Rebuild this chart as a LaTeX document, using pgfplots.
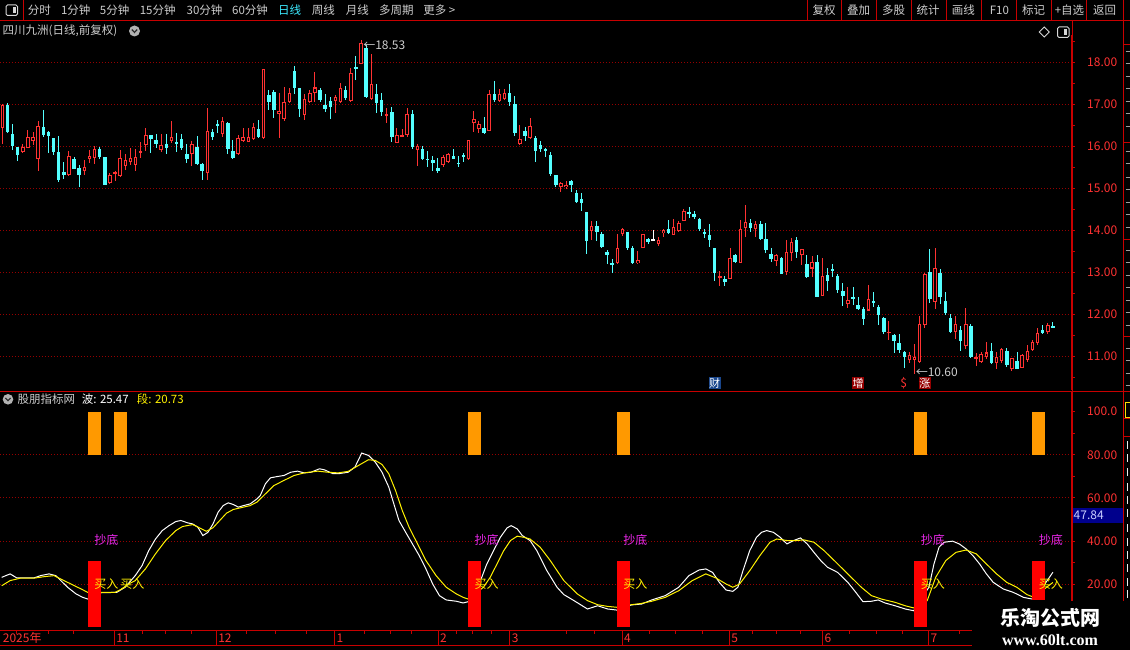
\documentclass[border=0pt]{standalone}
\usepackage{fontspec}
\setmainfont{Noto Sans CJK SC}
\newfontfamily\wmserif{Liberation Serif}
\usepackage{pgfplots}
\pgfplotsset{compat=1.18}
\usepackage{pgfplotstable}
\newcommand{\fs}[1]{\fontsize{#1}{#1}\selectfont}
\definecolor{cr}{RGB}{255,50,50}
\definecolor{cy}{RGB}{84,255,255}
\definecolor{axred}{RGB}{200,0,0}
\definecolor{gridred}{RGB}{150,0,0}
\definecolor{lblred}{RGB}{255,50,50}
\definecolor{uigray}{RGB}{205,205,205}
\definecolor{barorange}{RGB}{255,153,0}
\definecolor{mag}{RGB}{235,40,235}
\definecolor{navyb}{RGB}{0,0,140}
\definecolor{dayc}{RGB}{60,235,255}
\definecolor{cai}{RGB}{25,70,140}
\definecolor{zeng}{RGB}{150,0,0}

\pgfplotstableread{
n o h l c
1 16.44 17.01 16.06 16.99
5 15.88 16.06 15.84 15.99
6 15.98 16.40 15.97 16.24
7 16.14 16.36 16.04 16.22
8 15.70 16.61 15.41 16.49
14 15.33 15.90 15.30 15.78
17 15.41 15.68 15.33 15.51
18 15.70 15.92 15.62 15.79
19 15.74 16.02 15.60 15.94
22 15.13 15.38 15.11 15.33
23 15.37 15.42 15.19 15.40
24 15.30 15.92 15.27 15.73
25 15.54 15.83 15.44 15.68
26 15.64 15.98 15.56 15.73
27 15.57 15.94 15.41 15.75
28 15.87 16.12 15.74 15.89
29 16.03 16.44 15.90 16.29
32 15.91 16.30 15.88 16.03
34 16.14 16.61 16.08 16.24
38 15.82 16.14 15.54 16.07
41 15.37 16.91 15.21 16.37
44 16.31 16.70 16.22 16.61
47 15.82 16.28 15.80 16.21
48 16.14 16.44 16.12 16.22
49 16.12 16.44 16.11 16.22
50 16.19 16.56 16.16 16.46
52 16.20 17.85 16.18 17.84
55 16.79 17.27 16.21 16.85
56 16.65 17.43 16.61 17.06
57 17.06 17.39 17.03 17.29
60 16.75 17.25 16.64 17.13
61 17.06 17.35 17.03 17.29
62 17.27 17.78 17.07 17.41
66 17.10 17.23 16.81 17.18
67 17.07 17.52 17.05 17.39
69 17.10 17.87 17.07 17.75
71 17.98 18.53 17.97 18.48
73 17.13 18.21 17.11 17.49
76 16.75 16.93 16.56 16.78
78 16.10 16.44 16.09 16.29
79 16.24 16.41 16.22 16.28
80 16.29 16.91 16.24 16.78
82 15.91 16.06 15.55 16.02
87 15.56 15.80 15.52 15.75
88 15.64 15.84 15.62 15.83
92 15.70 16.17 15.68 16.16
93 16.57 16.85 16.36 16.65
94 16.42 16.61 16.33 16.54
96 16.38 17.35 16.37 17.25
98 17.09 17.37 17.07 17.25
99 17.13 17.37 17.11 17.29
102 16.06 16.52 16.04 16.18
104 16.20 16.68 16.19 16.49
110 15.05 15.16 14.91 15.13
111 15.05 15.18 14.99 15.10
116 14.00 14.23 13.78 14.11
121 13.22 13.92 13.21 13.60
122 13.92 14.06 13.88 14.04
125 13.22 13.52 13.21 13.30
126 13.60 13.93 13.59 13.91
129 13.68 13.86 13.64 13.78
130 13.95 14.03 13.86 14.01
132 13.90 14.28 13.89 14.10
133 14.00 14.22 13.98 14.19
134 14.24 14.52 14.22 14.48
141 12.88 13.04 12.68 12.92
143 12.86 13.58 12.84 13.34
145 13.24 14.25 13.22 14.03
146 14.07 14.61 13.86 14.20
148 14.03 14.23 13.86 14.16
152 13.29 13.44 13.16 13.42
154 13.02 13.78 12.95 13.49
155 13.48 13.83 13.29 13.72
157 13.42 13.57 13.18 13.56
159 13.10 13.40 12.89 13.26
161 12.45 13.34 12.44 12.92
166 12.25 12.67 12.15 12.35
170 12.10 12.71 12.09 12.37
174 11.56 11.85 11.40 11.60
178 10.91 11.10 10.84 11.03
179 10.92 11.30 10.60 11.00
180 10.88 11.98 10.84 11.77
181 11.75 13.00 11.69 12.97
183 12.31 13.58 12.14 13.11
187 11.58 11.97 11.42 11.78
189 11.26 12.16 11.18 11.79
191 10.96 11.08 10.78 11.00
192 10.88 11.12 10.86 11.06
193 11.00 11.36 10.95 11.10
195 10.84 11.12 10.71 11.00
196 10.90 11.20 10.84 11.18
198 10.71 10.98 10.67 10.96
200 10.74 11.06 10.72 11.03
201 10.91 11.28 10.88 11.14
202 11.16 11.40 11.14 11.34
203 11.32 11.68 11.28 11.56
205 11.58 11.81 11.55 11.75
}\upc

\pgfplotstableread{
n o h l c
2 16.99 17.03 16.32 16.34
3 16.30 16.54 15.91 16.02
4 15.99 16.00 15.67 15.80
9 16.46 16.87 16.24 16.28
10 16.35 16.38 15.86 16.25
11 16.20 16.21 15.80 15.87
12 15.87 16.25 15.17 15.21
13 15.40 15.64 15.23 15.33
15 15.71 15.75 15.46 15.48
16 15.49 15.56 15.05 15.33
20 15.94 16.00 15.70 15.75
21 15.75 15.76 15.09 15.10
30 16.27 16.28 15.86 16.19
31 16.16 16.30 15.96 16.06
33 16.06 16.30 15.83 15.98
35 16.10 16.32 15.88 16.08
36 16.18 16.30 15.92 15.98
37 15.83 16.06 15.62 15.71
39 15.99 16.25 15.57 15.59
40 15.59 15.62 15.21 15.41
42 16.34 16.41 16.16 16.24
43 16.54 16.64 16.32 16.50
45 16.57 16.60 15.83 15.94
46 15.90 16.17 15.71 15.74
51 16.41 16.64 16.21 16.24
53 17.23 17.35 16.87 17.07
54 17.30 17.35 16.69 16.87
58 17.80 17.92 17.25 17.39
59 17.39 17.40 16.71 16.90
63 17.35 17.39 17.07 17.11
64 16.99 17.25 16.83 16.90
65 17.09 17.19 16.67 16.95
68 17.35 17.44 17.11 17.17
70 17.89 18.16 17.59 17.85
72 18.34 18.42 17.17 17.19
74 17.25 17.49 16.81 17.03
75 17.11 17.29 16.74 16.83
77 16.82 16.94 16.12 16.22
81 16.79 16.87 15.95 15.99
83 15.94 16.02 15.68 15.71
84 15.71 15.89 15.52 15.69
85 15.68 15.78 15.41 15.62
86 15.50 15.74 15.38 15.41
89 15.78 15.94 15.70 15.71
90 15.61 15.78 15.52 15.60
91 15.79 15.84 15.64 15.78
95 16.44 16.71 16.31 16.32
97 17.25 17.56 17.06 17.11
100 17.29 17.49 16.97 17.07
101 17.02 17.21 16.26 16.32
103 16.37 16.46 16.14 16.26
105 16.20 16.25 15.64 15.90
106 16.04 16.14 15.88 15.95
107 15.93 15.98 15.76 15.92
108 15.80 15.87 15.31 15.35
109 15.32 15.33 15.05 15.09
112 15.18 15.21 14.93 15.10
113 14.89 14.97 14.67 14.69
114 14.75 14.89 14.48 14.67
115 14.44 14.45 13.44 13.76
117 14.11 14.23 13.76 13.98
118 13.92 13.97 13.60 13.62
119 13.50 13.54 13.21 13.42
120 13.22 13.32 13.00 13.21
123 13.97 13.98 13.54 13.58
124 13.60 13.64 13.21 13.22
127 13.80 13.83 13.69 13.72
131 14.04 14.25 13.92 13.94
135 14.45 14.56 14.31 14.40
136 14.39 14.47 14.29 14.33
137 14.28 14.31 14.00 14.03
138 13.98 14.04 13.82 13.93
139 13.90 14.16 13.62 13.78
140 13.58 13.60 12.81 13.00
142 12.85 12.92 12.68 12.79
144 13.42 13.44 13.24 13.25
147 14.19 14.29 13.98 14.07
149 14.16 14.23 13.79 13.80
150 13.80 14.19 13.46 13.54
151 13.45 13.58 13.26 13.33
153 13.36 13.38 12.96 12.97
156 13.78 13.84 13.34 13.50
158 13.20 13.42 12.87 12.89
160 13.26 13.42 12.41 12.43
162 12.94 13.12 12.57 12.81
163 13.07 13.21 12.89 13.06
164 12.93 12.98 12.51 12.59
165 12.56 12.76 12.21 12.45
167 12.41 12.65 12.23 12.37
168 12.23 12.43 12.11 12.13
169 12.14 12.18 11.75 11.90
171 12.31 12.54 12.18 12.30
172 12.19 12.23 11.75 11.99
173 11.91 11.95 11.53 11.60
175 11.52 11.54 11.10 11.38
176 11.33 11.53 11.08 11.16
177 11.12 11.14 10.74 10.99
182 13.02 13.56 12.27 12.37
184 12.99 13.10 12.25 12.43
185 12.33 12.54 11.99 12.03
186 11.93 12.01 11.56 11.58
188 11.64 11.74 11.14 11.38
190 11.74 11.77 10.98 11.00
194 11.14 11.32 10.83 10.84
197 11.14 11.20 10.76 10.80
199 10.90 11.10 10.70 10.71
204 11.64 11.75 11.53 11.56
206 11.73 11.83 11.68 11.69
}\dnc

\pgfplotstableread{
n o h l c
128 13.78 14.02 13.76 13.78
}\flatc

\pgfplotstableread{
n v
0.88 23.1
2.53 24.7
3.85 22.8
7.15 22.8
8.47 23.9
10.12 24.7
11.44 23.9
12.42 21.6
13.74 18.5
15.39 15.4
16.71 13.8
17.70 13.0
20.34 16.0
23.31 16.1
24.96 18.5
26.94 23.9
28.26 28.5
29.57 35.5
30.89 40.9
32.21 44.8
33.53 47.1
34.85 49.0
35.84 49.5
37.16 48.4
38.15 47.9
39.14 46.4
40.13 42.5
41.12 44.0
42.11 47.9
43.10 53.3
44.09 56.4
45.08 57.7
46.07 56.9
47.06 55.7
48.04 56.4
49.36 57.2
50.68 59.5
51.34 61.1
52.33 66.5
53.32 69.3
54.64 69.9
55.96 70.4
57.28 71.9
58.60 72.4
59.92 71.6
61.24 71.9
62.89 73.5
63.88 73.0
65.53 71.2
66.54 71.2
68.49 71.9
69.81 74.3
71.13 80.8
72.45 79.7
73.77 76.6
75.09 71.9
76.41 65.0
77.40 57.2
78.39 49.5
79.71 44.0
81.03 38.6
82.35 33.2
83.66 27.0
84.98 20.0
86.30 14.6
87.62 12.6
89.60 12.0
90.92 11.2
91.91 11.8
94.55 23.1
95.54 29.3
96.86 35.5
98.18 41.7
99.50 46.1
100.29 47.1
101.47 45.6
102.46 42.5
103.97 40.2
105.29 35.5
107.26 26.2
109.24 18.5
110.56 15.1
112.54 12.3
115.18 8.4
117.16 9.9
119.14 8.4
120.92 7.9
123.76 10.3
125.73 10.7
127.71 12.6
130.35 14.6
132.99 18.5
134.97 23.9
136.95 26.5
138.27 27.0
139.59 25.4
140.90 20.8
142.23 17.2
143.54 16.6
144.53 18.5
145.52 26.2
146.84 35.5
148.16 41.7
149.15 44.0
150.14 44.8
151.46 44.0
152.78 41.7
154.10 38.6
155.42 40.2
156.74 41.4
158.06 38.6
159.37 34.7
160.69 30.9
162.01 27.8
163.99 25.4
165.97 20.8
167.29 16.9
168.94 11.8
170.59 12.0
171.91 12.6
173.23 11.2
175.21 9.9
177.19 8.4
178.83 7.6
181.80 18.5
182.79 29.3
183.78 37.1
184.77 39.4
186.42 39.9
187.74 38.6
189.06 36.3
190.38 33.2
191.70 29.3
193.02 24.7
194.34 20.8
196.31 17.7
198.29 16.1
200.27 13.8
201.99 13.0
204.5 20.3
206 25.47
}\wave

\pgfplotstableread{
n v
0.88 19.2
2.53 21.6
4.51 22.7
7.15 22.7
9.13 23.4
11.10 23.9
12.42 22.3
14.40 20.0
16.38 17.7
17.70 16.1
20.34 16.1
22.98 16.1
24.30 17.7
25.62 20.0
26.94 21.6
28.92 27.0
30.89 34.0
32.87 40.2
34.85 44.8
36.17 46.7
38.15 47.6
39.47 46.1
40.79 44.5
42.11 46.1
43.43 49.5
44.75 52.9
46.07 54.6
48.04 55.7
49.36 56.4
50.68 58.0
52.66 62.6
53.98 65.7
55.96 68.1
57.94 70.4
59.92 71.6
62.56 72.4
64.54 71.9
66.52 71.6
68.49 72.3
70.47 75.0
72.45 77.7
73.77 77.4
75.09 75.5
76.41 71.2
77.73 63.4
79.05 54.1
80.37 46.4
81.69 40.2
83.66 30.9
85.64 23.9
87.62 18.5
89.60 15.4
90.92 13.8
91.91 13.0
94.88 18.5
96.20 23.1
97.52 29.3
98.84 35.5
100.16 40.2
101.47 42.2
102.79 41.7
103.97 40.9
105.94 37.1
107.92 30.9
110.56 21.6
113.20 15.4
115.18 12.3
117.16 10.4
119.14 9.6
120.92 9.2
123.76 10.4
125.73 11.0
127.71 12.0
130.35 13.8
132.99 16.9
135.63 21.6
138.27 24.7
140.25 22.8
142.23 20.0
143.54 18.5
144.86 20.0
146.84 26.2
148.82 33.2
150.80 39.4
152.12 40.9
154.10 40.2
156.08 40.2
157.40 40.5
159.37 39.4
161.35 35.5
163.33 30.9
165.97 24.7
168.61 18.5
170.59 14.6
172.57 13.0
175.21 11.5
177.19 9.9
178.83 8.9
181.47 12.3
183.12 23.1
185.10 30.9
187.08 34.7
189.06 35.8
191.04 34.0
193.02 29.3
195.00 24.7
196.97 20.8
198.95 18.5
200.93 15.1
201.99 14.1
204.5 18.0
206 20.73
}\seg

\pgfplotstableread{
n lo hi
18.95 80 100
24.02 80 100
93.14 80 100
122.17 80 100
180.2 80 100
203.2 80 100
}\obars

\pgfplotstableread{
n lo hi
18.95 0 30.7
93.14 0 30.7
122.17 0 30.7
180.2 0 30.7
203.2 12.6 30.8
}\rbars

\pgfplotsset{
  panel/.style={
    width=1072pt, scale only axis, anchor=north west,
    xmin=0.551, xmax=209.72,
    axis x line=none, axis y line=right,
    y axis line style={-, draw=axred, line width=1pt},
    tick align=outside, major tick length=3pt, minor tick length=3pt,
    tick style={draw=axred, line width=0.8pt},
    yticklabel style={text=lblred, font=\fs{12}, anchor=west, inner sep=0pt, xshift=12pt},
    ymajorgrids, major grid style={draw=gridred, line width=0.8pt, dash pattern=on 1pt off 2pt},
  },
  eb/.style 2 args={draw=none, no markers, forget plot,
    error bars/.cd, y dir=both, y explicit, error mark=none,
    error bar style={draw=#1, line width=#2, solid}},
}

\begin{document}
\begin{tikzpicture}[x=1pt,y=-1pt]
\path[use as bounding box] (0,0) rectangle (1130,650);
\fill[black] (0,0) rectangle (1130,650);
\coordinate (UP) at (0,35);
\coordinate (LO) at (0,392);
\coordinate (DT) at (0,630);

% ---------------- price panel ----------------
\begin{axis}[panel, at={(UP)}, height=355pt,
  ymin=10.207, ymax=18.66,
  ytick={11,12,13,14,15,16,17,18},
  yticklabels={11.00,12.00,13.00,14.00,15.00,16.00,17.00,18.00},
  minor ytick={10.5,11.5,12.5,13.5,14.5,15.5,16.5,17.5,18.5}]
% wicks
\addplot[eb={cr}{1pt}] table[x=n, y expr={(\thisrow{h}+\thisrow{l})/2}, y error expr={(\thisrow{h}-\thisrow{l})/2}] {\upc};
\addplot[eb={cy}{1pt}] table[x=n, y expr={(\thisrow{h}+\thisrow{l})/2}, y error expr={(\thisrow{h}-\thisrow{l})/2}] {\dnc};
\addplot[eb={white}{1pt}] table[x=n, y expr={(\thisrow{h}+\thisrow{l})/2}, y error expr={(\thisrow{h}-\thisrow{l})/2}] {\flatc};
% bodies
\addplot[eb={cr}{3.6pt}] table[x=n, y expr={(\thisrow{o}+\thisrow{c})/2}, y error expr={max((\thisrow{c}-\thisrow{o})/2,0.012)}] {\upc};
\addplot[eb={black}{1.6pt}] table[x=n, y expr={(\thisrow{o}+\thisrow{c})/2}, y error expr={max((\thisrow{c}-\thisrow{o})/2-0.024,0)}] {\upc};
\addplot[eb={cy}{3.6pt}] table[x=n, y expr={(\thisrow{o}+\thisrow{c})/2}, y error expr={max((\thisrow{o}-\thisrow{c})/2,0.012)}] {\dnc};
\addplot[eb={white}{3.6pt}] table[x=n, y expr={(\thisrow{o}+\thisrow{c})/2}, y error expr={0.012}] {\flatc};
% annotations
\node[anchor=west, inner sep=0pt, text=uigray, font=\fs{12}] at (axis cs:71.4,18.42) {←18.53};
\node[anchor=west, inner sep=0pt, text=uigray, font=\fs{12}] at (axis cs:179.2,10.62) {←10.60};
\node[fill=cai, text=white, inner sep=0.6pt, font=\fs{11}] at (axis cs:140,10.374) {财};
\node[fill=zeng, text=white, inner sep=0.6pt, font=\fs{11}] at (axis cs:168,10.374) {增};
\node[text=cr, inner sep=0pt, font=\fs{12}] at (axis cs:176.9,10.36) {\$};
\node[fill=zeng, text=white, inner sep=0.6pt, font=\fs{11}] at (axis cs:181,10.374) {涨};
\end{axis}

% ---------------- indicator panel ----------------
\begin{axis}[panel, at={(LO)}, height=238pt,
  ymin=-1.35, ymax=109.15,
  ytick={20,40,60,80}, yticklabels={20.00,40.00,60.00,80.00},
  extra y ticks={100}, extra y tick labels={100.0}, extra y tick style={grid=none},
  minor ytick={10,30,50,70,90}]
\addplot[white, line width=1pt, no markers] table[x=n, y=v] {\wave};
\addplot[yellow, line width=1pt, no markers] table[x=n, y=v] {\seg};
\addplot[eb={barorange}{12.7pt}] table[x=n, y expr={(\thisrow{lo}+\thisrow{hi})/2}, y error expr={(\thisrow{hi}-\thisrow{lo})/2}] {\obars};
\addplot[eb={red}{12.7pt}] table[x=n, y expr={(\thisrow{lo}+\thisrow{hi})/2}, y error expr={(\thisrow{hi}-\thisrow{lo})/2}] {\rbars};
\begin{scope}[every node/.style={anchor=west, inner sep=0pt, font=\fs{12}}]
\node[text=mag] at (axis cs:18.95,40.3) {抄底};
\node[text=mag] at (axis cs:93.14,40.3) {抄底};
\node[text=mag] at (axis cs:122.17,40.3) {抄底};
\node[text=mag] at (axis cs:180.2,40.3) {抄底};
\node[text=mag] at (axis cs:203.2,40.3) {抄底};
\node[text=yellow] at (axis cs:18.95,20.2) {买入};
\node[text=yellow] at (axis cs:24.02,20.2) {买入};
\node[text=yellow] at (axis cs:93.14,20.2) {买入};
\node[text=yellow] at (axis cs:122.17,20.2) {买入};
\node[text=yellow] at (axis cs:180.2,20.2) {买入};
\node[text=yellow] at (axis cs:203.2,20.2) {买入};
\end{scope}
\end{axis}

% ---------------- date strip ----------------
\begin{axis}[at={(DT)}, anchor=north west, width=1072pt, height=15.7pt, scale only axis,
  xmin=0.551, xmax=209.72, ymin=0, ymax=15.7, y dir=reverse, axis lines=none, clip=false]
\pgfplotsinvokeforeach{22.85,42.78,65.86,86.03,100.02,121.92,142.89,161.02,181.8}{
  \draw[axred, line width=1pt] (axis cs:#1,0) -- (axis cs:#1,15.7);}
\pgfplotsinvokeforeach{3.71,10.11,14.93,28.26,32.88,37.82,48.71,54.31,60.26,71.65,76.75,80.90,89.60,92.77,96.53,111.09,116.49,127.19,132.45,137.60,147.38,152.12,156.75,166.31,171.58,176.73,187.73}{
  \draw[axred, line width=1pt] (axis cs:#1,0) -- (axis cs:#1,4);}
\begin{scope}[every node/.style={anchor=west, inner sep=0pt, text=lblred, font=\fs{12}}]
\node at (axis cs:1.08,8) {2025年};
\node at (axis cs:23.2,8) {11};
\node at (axis cs:43.1,8) {12};
\node at (axis cs:66.2,8) {1};
\node at (axis cs:86.4,8) {2};
\node at (axis cs:100.4,8) {3};
\node at (axis cs:122.3,8) {4};
\node at (axis cs:143.2,8) {5};
\node at (axis cs:161.4,8) {6};
\node at (axis cs:182.1,8) {7};
\end{scope}
\end{axis}

% ---------------- frame lines ----------------
\draw[axred, line width=1pt] (0,20.5) -- (1130,20.5);
\draw[axred, line width=1pt] (23,0) -- (23,20.5);
\foreach \x in {807.2,841.4,876.4,911.3,946.3,981.2,1016.2,1051.5,1086.4}
  \draw[axred, line width=1pt] (\x,0) -- (\x,20.5);
\draw[axred, line width=1pt] (1123.6,0) -- (1123.6,630);
\draw[axred, line width=1pt] (1072,20.5) -- (1072,630);
\draw[axred, line width=1pt] (0,391) -- (1130,391);
\draw[axred, line width=1pt] (0,630) -- (1130,630);
\draw[axred, line width=1pt] (0,645.7) -- (1130,645.7);
\foreach \y in {45,142.7,239,336.7,418,436.7}
  \draw[axred, line width=1pt] (1123.6,\y) -- (1130,\y);
\foreach \y in {52,64,77,89,102,114,127,152,164,177,189,202,214,227,250,262,275,287,300,312,325,348,360,373,385}
  \draw[gray!75, line width=1pt] (1125.5,\y) -- (1130,\y);
\draw[yellow!80!orange, line width=1pt] (1125.5,402) rectangle (1132,417);
\foreach \y in {445,458,472,487,500,513,528,542,555,568,582,594}
  \draw[white!85!gray, line width=1pt] (1127.5,\y-4) -- (1127.5,\y+4);

% ---------------- toolbar ----------------
\draw[uigray!80, line width=1pt, rounded corners=1.5pt] (6,5) rectangle (17.5,15.5);
\fill[uigray!80] (12.5,7) rectangle (15.5,13.5);
\begin{scope}[every node/.style={font=\fs{11.5}, text=uigray, inner sep=0pt}]
\node at (39.3,10) {分时};
\node at (75.7,10) {1分钟};
\node at (114.6,10) {5分钟};
\node at (157.7,10) {15分钟};
\node at (204.5,10) {30分钟};
\node at (250,10) {60分钟};
\node[text=dayc] at (289.5,10) {日线};
\node at (323.4,10) {周线};
\node at (357.3,10) {月线};
\node at (396.4,10) {多周期};
\node at (439.3,10) {更多 >};
\node at (824.1,10) {复权};
\node at (858.7,10) {叠加};
\node at (893.5,10) {多股};
\node at (928.1,10) {统计};
\node at (963.4,10) {画线};
\node at (999.4,10) {F10};
\node at (1033.7,10) {标记};
\node at (1069.5,10) {+自选};
\node at (1104.6,10) {返回};
\end{scope}

% title row
\node[anchor=west, font=\fs{11.5}, text=uigray, inner sep=0pt] at (2.5,31) {四川九洲(日线,前复权)};
\fill[gray!60] (134.5,31) circle[radius=5.5];
\draw[black!85, line width=1.2pt] (131.8,29.6) -- (134.5,32.4) -- (137.2,29.6);
\draw[uigray!80, line width=0.8pt] (1044.3,27) -- (1049.3,32) -- (1044.3,37) -- (1039.3,32) -- cycle;
\draw[uigray!80, line width=1pt, rounded corners=1.5pt] (1057.5,27) rectangle (1069,37.5);
\fill[uigray!80] (1064,29) rectangle (1067,35.5);

% indicator title
\fill[gray!60] (8,399.3) circle[radius=5.3];
\draw[black!85, line width=1.1pt] (5.4,397.9) -- (8,400.7) -- (10.6,397.9);
\node[anchor=west, font=\fs{11.5}, text=uigray, inner sep=0pt] at (17.3,399.3) {股朋指标网};
\node[anchor=west, font=\fs{11.5}, text=white, inner sep=0pt] at (81.7,399.3) {波: 25.47};
\node[anchor=west, font=\fs{11.5}, text=yellow, inner sep=0pt] at (136.7,399.3) {段: 20.73};

% current value box
\fill[navyb] (1072.5,507.7) rectangle (1123.1,523.3);
\node[anchor=west, font=\fs{12}, text={rgb,255:red,200;green,205;blue,255}, inner sep=0pt] at (1073.5,515.5) {47.84};

% watermark
\fill[black] (972,601) rectangle (1130,650);
\node[text=white, font=\fs{20}\bfseries, inner sep=0pt] at (1050,618) {乐淘公式网};
\node[text=white, font=\wmserif\fs{16}\bfseries, inner sep=0pt] at (1050,640) {www.60lt.com};
\end{tikzpicture}
\end{document}
